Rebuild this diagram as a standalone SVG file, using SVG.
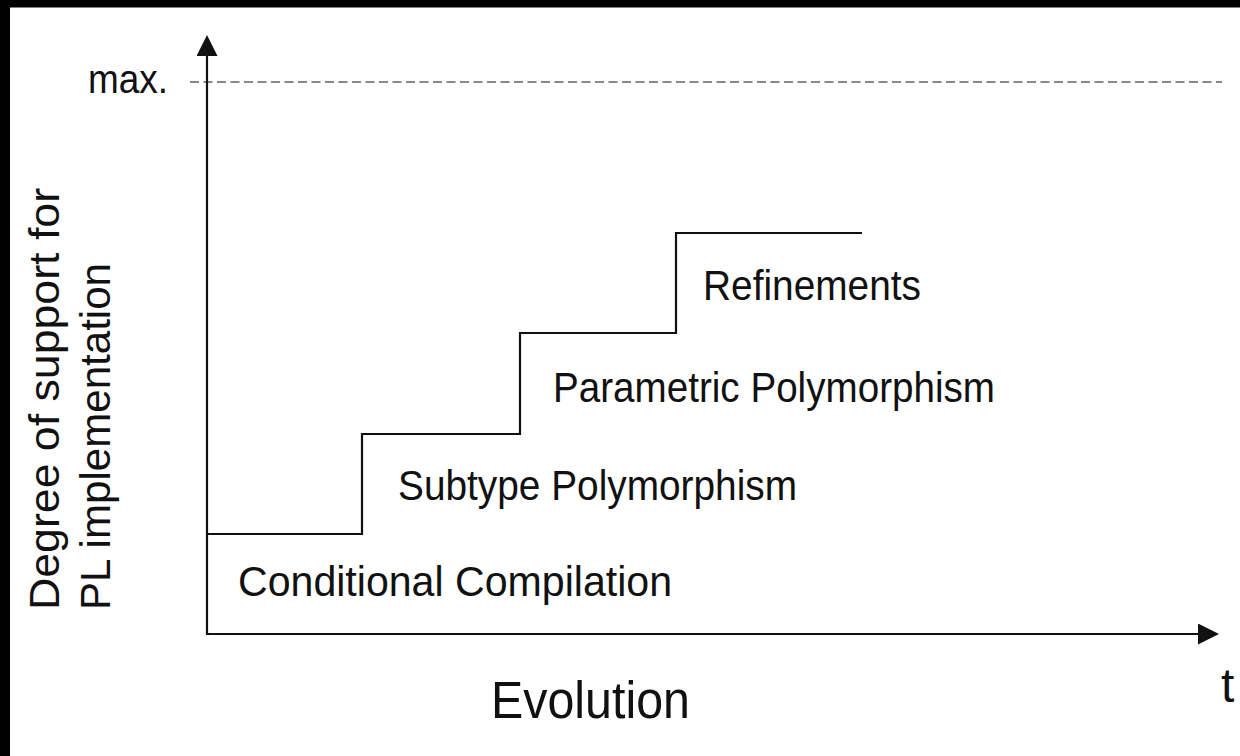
<svg xmlns="http://www.w3.org/2000/svg" width="1240" height="756" viewBox="0 0 1240 756">
  <style>
    .lbl { font-family: "Liberation Sans", Arial, sans-serif; fill: #111; }
    .ln { fill: none; stroke: #111; stroke-width: 2.2; }
  </style>
  <defs>
    <marker id="arr" markerUnits="userSpaceOnUse" markerWidth="22" markerHeight="22" refX="2" refY="10.5" orient="auto">
      <path d="M0,0 L21,10.5 L0,21 Z" fill="#111"/>
    </marker>
  </defs>
  <rect x="0" y="0" width="1240" height="756" fill="#fff"/>
  <rect x="0" y="0" width="1240" height="7.5" fill="#000"/>
  <rect x="0" y="0" width="10" height="756" fill="#000"/>

  <g id="connectors">
    <line x1="190" y1="82" x2="1222" y2="82" stroke="#888" stroke-width="2" stroke-dasharray="9 4.5"/>
    <line class="ln" x1="207" y1="635" x2="207" y2="54" marker-end="url(#arr)"/>
    <line class="ln" x1="206" y1="634" x2="1200" y2="634" marker-end="url(#arr)"/>
    <polyline class="ln" points="207,534 362,534 362,434 520,434 520,333 676,333 676,233 862,233"/>
  </g>

  <g id="max-label"><text class="lbl" x="88" y="93" font-size="40" textLength="80" lengthAdjust="spacingAndGlyphs">max.</text></g>
  <g id="y-axis-label">
    <text class="lbl" font-size="42" transform="translate(59,610) rotate(-90)" textLength="422" lengthAdjust="spacingAndGlyphs">Degree of support for</text>
    <text class="lbl" font-size="42" transform="translate(110,610) rotate(-90)" textLength="347" lengthAdjust="spacingAndGlyphs">PL implementation</text>
  </g>
  <g id="conditional-compilation"><text class="lbl" x="238" y="596" font-size="43" textLength="434" lengthAdjust="spacingAndGlyphs">Conditional Compilation</text></g>
  <g id="subtype-polymorphism"><text class="lbl" x="398" y="500" font-size="43" textLength="399" lengthAdjust="spacingAndGlyphs">Subtype Polymorphism</text></g>
  <g id="parametric-polymorphism"><text class="lbl" x="553" y="402" font-size="43" textLength="442" lengthAdjust="spacingAndGlyphs">Parametric Polymorphism</text></g>
  <g id="refinements"><text class="lbl" x="703" y="300" font-size="43" textLength="218" lengthAdjust="spacingAndGlyphs">Refinements</text></g>
  <g id="evolution"><text class="lbl" x="491" y="718" font-size="51" textLength="199" lengthAdjust="spacingAndGlyphs">Evolution</text></g>
  <g id="t-label"><text class="lbl" x="1221" y="702" font-size="48">t</text></g>
</svg>
